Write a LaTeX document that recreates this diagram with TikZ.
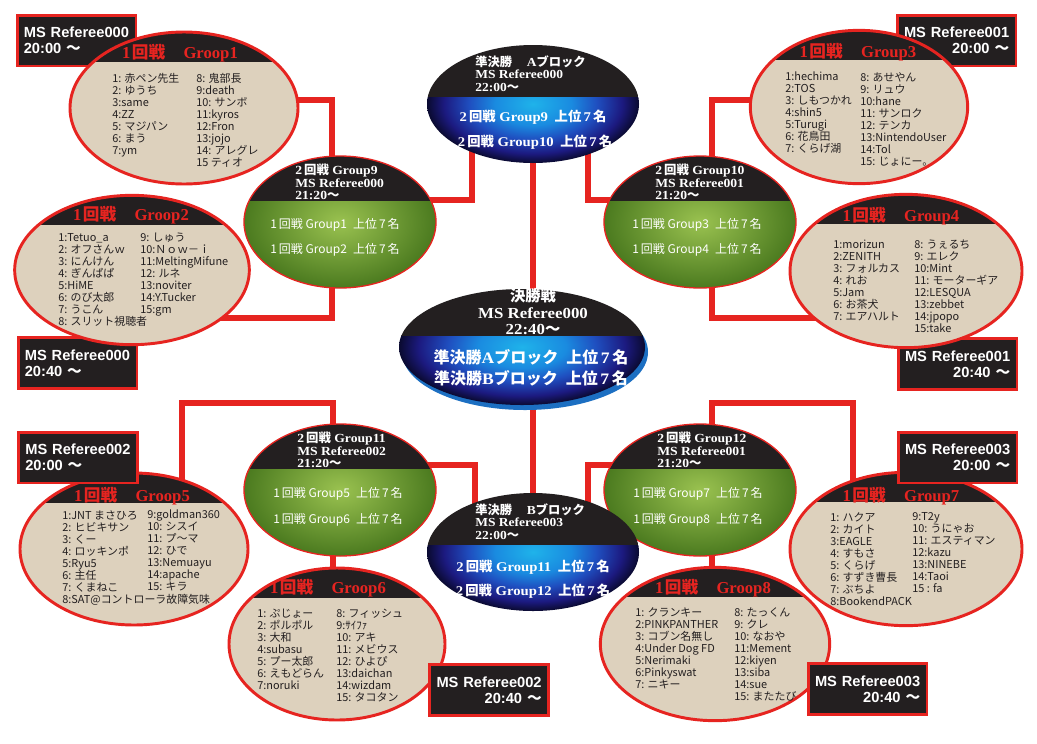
\documentclass[tikz,border=0pt]{standalone}
\usepackage{fontspec}
\setmainfont{Liberation Serif}
\newfontfamily\jp{Noto Sans CJK JP}
\newfontfamily\wser{Liberation Serif}[FakeStretch=1.1]
\newfontfamily\rsans{Liberation Sans}
\usetikzlibrary{shapes.geometric,backgrounds,calc}
\definecolor{mred}{HTML}{E62420}
\definecolor{hblack}{HTML}{231F20}
\definecolor{beige}{HTML}{DDD1BD}
\definecolor{gin}{HTML}{9AC250}
\definecolor{gout}{HTML}{4B7A1F}
\definecolor{bcyan}{HTML}{1FB3EA}
\definecolor{bmid}{HTML}{1A8BE0}
\definecolor{bblue}{HTML}{1F4FC0}
\definecolor{bnavy}{HTML}{1C1A80}
\definecolor{bdark}{HTML}{0A0A30}
\definecolor{brim}{HTML}{1C6FC2}
\pgfdeclareradialshading{greenglow}{\pgfpoint{0bp}{0bp}}{color(0bp)=(gin); color(25bp)=(gout); color(50bp)=(gout)}
\pgfdeclareradialshading{blueglow}{\pgfpoint{0bp}{0bp}}{color(0bp)=(bcyan); color(9bp)=(bmid); color(15bp)=(bblue); color(21bp)=(bnavy); color(25bp)=(bdark); color(50bp)=(black)}
\newcommand\kj[1]{{\jp\bfseries #1}}
\newcommand\ttl[1]{\bfseries 1\kern1pt\kj{回戦}\hspace{1.1em}#1}
\tikzset{
  link/.style={mred,line width=3.8pt},
  grp/.style={ellipse,draw=mred,line width=2.2pt,fill=beige,inner sep=0pt,
    path picture={\fill[hblack](path picture bounding box.north west)rectangle([yshift=-22.5pt]path picture bounding box.north east);}},
  rnd/.style={ellipse,draw=mred,line width=1pt,inner sep=0pt,minimum width=144pt,minimum height=99pt,
    path picture={\shade[shading=greenglow](path picture bounding box.south west)rectangle([yshift=-34pt]path picture bounding box.north east);
      \fill[hblack](path picture bounding box.north west)rectangle([yshift=-34pt]path picture bounding box.north east);}},
  semi/.style={ellipse,inner sep=0pt,
    path picture={\shade[shading=blueglow](path picture bounding box.south west)rectangle([yshift=-#1]path picture bounding box.north east);
      \fill[hblack](path picture bounding box.north west)rectangle([yshift=-#1]path picture bounding box.north east);}},
  ref/.style={rectangle,draw=mred,line width=2pt,fill=hblack,text=white,minimum width=89pt,minimum height=38pt,
    inner xsep=5pt,text width=79pt,align=#1,font=\rsans\bfseries\fontsize{11}{12}\selectfont},
  ttlsty/.style={text=mred,inner sep=0pt,font=\fontsize{12.5}{13}\selectfont},
  lst/.style={anchor=north west,inner sep=0pt,align=left,text=hblack,font=\jp\fontsize{8.2}{9}\selectfont},
  hd/.style={anchor=north west,inner sep=0pt,align=left,text=white,font=\wser\bfseries\fontsize{9.3}{9.1}\selectfont},
  bodyg/.style={text=white,inner sep=0pt,font=\jp\fontsize{9}{10}\selectfont},
  bodyb/.style={text=white,inner sep=0pt,font=\wser\bfseries\fontsize{10}{11}\selectfont}
}
\begin{document}
\begin{tikzpicture}[x=0.75pt,y=-0.75pt]
\useasboundingbox(0,0)rectangle(1037,743);
\node[ref=left](r1)at(76.5,40.5){MS Referee000\\20:00 \kj{～}};
\node[ref=left](r2)at(77.5,363){MS Referee000\\20:40 \kj{～}};
\node[ref=right](r3)at(956.5,40.5){MS Referee001\\20:00 \kj{～}};
\node[ref=right](r4)at(957.5,364){MS Referee001\\20:40 \kj{～}};

\node[grp,minimum width=171pt,minimum height=114pt](g1)at(184,108){};
\node[grp,minimum width=176pt,minimum height=112pt](g2)at(132,270){};
\node[grp,minimum width=163pt,minimum height=115pt](g3)at(859,107){};
\node[grp,minimum width=174pt,minimum height=115pt](g4)at(906,271){};
\node[grp,minimum width=171pt,minimum height=114pt](g5)at(134,549){};
\node[grp,minimum width=162pt,minimum height=114pt](g6)at(337,644){};
\node[grp,minimum width=174pt,minimum height=115pt](g7)at(906,549){};
\node[grp,minimum width=172pt,minimum height=115pt](g8)at(715,644){};

\node[ttlsty](t1)at(180,53){\ttl{Groop1}};
\node[ttlsty](t2)at(131,215){\ttl{Groop2}};
\node[ttlsty](t3)at(858,52){\ttl{Group3}};
\node[ttlsty](t4)at(901,216){\ttl{Group4}};
\node[ttlsty](t5)at(132,496){\ttl{Groop5}};
\node[ttlsty](t6)at(328,588){\ttl{Groop6}};
\node[ttlsty](t7)at(901,496){\ttl{Group7}};
\node[ttlsty](t8)at(713,588){\ttl{Groop8}};

\node[lst](g1a)at(112,73){1: 赤ペン先生\\2: ゆうち\\3:same\\4:ZZ\\5: マジパン\\6: まう\\7:ym};
\node[lst](g1b)at(196,73){8: 鬼部長\\9:death\\10: サンボ\\11:kyros\\12:Fron\\13:jojo\\14: アレグレ\\15 ティオ};
\node[lst](g2a)at(58,233){1:Tetuo\_a\\2: オフさんｗ\\3: にんけん\\4: ぎんぱぱ\\5:HiME\\6: のび太郎\\7: うこん\\8: スリット視聴者};
\node[lst](g2b)at(140,233){9: しゅう\\10:Ｎｏｗ－ｉ\\11:MeltingMifune\\12: ルネ\\13:noviter\\14:Y.Tucker\\15:gm};
\node[lst](g3a)at(785,72){1:hechima\\2:TOS\\3: しもつかれ\\4:shin5\\5:Turugi\\6: 花鳥田\\7: くらげ湖};
\node[lst](g3b)at(860,72){8: あせやん\\9: リュウ\\10:hane\\11: サンロク\\12: テンカ\\13:NintendoUser\\14:Tol\\15: じょにー。};
\node[lst](g4a)at(833,240){1:morizun\\2:ZENITH\\3: フォルカス\\4: れお\\5:Jam\\6: お茶犬\\7: エアハルト};
\node[lst](g4b)at(914,240){8: うぇるち\\9: エレク\\10:Mint\\11: モーターギア\\12:LESQUA\\13:zebbet\\14:jpopo\\15:take};
\node[lst](g5a)at(62,510){1:JNT まさひろ\\2: ヒビキサン\\3: くー\\4: ロッキンポ\\5:Ryu5\\6: 主任\\7: くまねこ\\8:SAT@コントローラ故障気味};
\node[lst](g5b)at(147,510){9:goldman360\\10: シスイ\\11: プ～マ\\12: ひで\\13:Nemuayu\\14:apache\\15: キラ};
\node[lst](g6a)at(257,609){1: ぷじょー\\2: ポルポル\\3: 大和\\4:subasu\\5: プー太郎\\6: えもどらん\\7:noruki};
\node[lst](g6b)at(336,609){8: フィッシュ\\9:ｻｲﾌｧ\\10: アキ\\11: メビウス\\12: ひよぴ\\13:daichan\\14:wizdam\\15: タコタン};
\node[lst](g7a)at(830,512){1: ハクア\\2: カイト\\3:EAGLE\\4: すもさ\\5: くらげ\\6: すずき曹長\\7: ぶちよ\\8:BookendPACK};
\node[lst](g7b)at(912,512){9:T2y\\10: うにゃお\\11: エスティマン\\12:kazu\\13:NINEBE\\14:Taoi\\15 : fa};
\node[lst](g8a)at(635,607){1: クランキー\\2:PINKPANTHER\\3: コブン名無し\\4:Under Dog FD\\5:Nerimaki\\6:Pinkyswat\\7: ニキー};
\node[lst](g8b)at(734,607){8: たっくん\\9: クレ\\10: なおや\\11:Mement\\12:kiyen\\13:siba\\14:sue\\15: またたび};

\node[rnd](g9)at(340,222){};
\node[rnd](g10)at(700,222){};
\node[rnd](g11)at(340,490){};
\node[rnd](g12)at(700,490){};
\node[hd](h9)at(295,164){2\,\kj{回戦} Group9\\MS Referee000\\21:20\kj{～}};
\node[hd](h10)at(655,164){2\,\kj{回戦} Group10\\MS Referee001\\21:20\kj{～}};
\node[hd](h11)at(297,432){2\,\kj{回戦} Group11\\MS Referee002\\21:20\kj{～}};
\node[hd](h12)at(657,432){2\,\kj{回戦} Group12\\MS Referee001\\21:20\kj{～}};
\node[bodyg](b9a)at(335,225){1\,回戦 Group1\enspace 上位\,7\,名};
\node[bodyg](b9b)at(335,250){1\,回戦 Group2\enspace 上位\,7\,名};
\node[bodyg](b10a)at(697,225){1\,回戦 Group3\enspace 上位\,7\,名};
\node[bodyg](b10b)at(697,250){1\,回戦 Group4\enspace 上位\,7\,名};
\node[bodyg](b11a)at(338,494){1\,回戦 Group5\enspace 上位\,7\,名};
\node[bodyg](b11b)at(338,520){1\,回戦 Group6\enspace 上位\,7\,名};
\node[bodyg](b12a)at(698,494){1\,回戦 Group7\enspace 上位\,7\,名};
\node[bodyg](b12b)at(698,520){1\,回戦 Group8\enspace 上位\,7\,名};

\node[semi=39pt,minimum width=159pt,minimum height=88.5pt](sa)at(533,104){};
\node[semi=39pt,minimum width=159pt,minimum height=88.5pt](sb)at(533,552){};
\node[ellipse,fill=brim,minimum width=184.5pt,minimum height=87pt](fsh)at(525,352){};
\node[semi=35pt,minimum width=184.5pt,minimum height=87pt](fin)at(522,347){};
\node[hd,font=\wser\bfseries\fontsize{9.2}{9.4}\selectfont](hsa)at(475,55){\kj{準決勝}\hspace{1.2em}A\kj{ブロック}\\MS Referee000\\22:00\kj{～}};
\node[hd,font=\wser\bfseries\fontsize{9.2}{9.4}\selectfont](hsb)at(475,503){\kj{準決勝}\hspace{1.2em}B\kj{ブロック}\\MS Referee003\\22:00\kj{～}};
\node[hd,anchor=center,align=center,font=\wser\bfseries\fontsize{11.5}{12.4}\selectfont](hfin)at(533,312){\kj{決勝戦}\\MS Referee000\\22:40\kj{～}};
\node[bodyb](bsa1)at(533,117){2\,\kj{回戦} Group9\enspace\kj{上位}\,7\,\kj{名}};
\node[bodyb](bsa2)at(535,142){2\,\kj{回戦} Group10\enspace\kj{上位}\,7\,\kj{名}};
\node[bodyb](bsb1)at(533,567){2\,\kj{回戦} Group11\enspace\kj{上位}\,7\,\kj{名}};
\node[bodyb](bsb2)at(533,591){2\,\kj{回戦} Group12\enspace\kj{上位}\,7\,\kj{名}};
\node[bodyb,font=\wser\bfseries\fontsize{12}{13}\selectfont](bf1)at(531,357){\kj{準決勝}A\kj{ブロック}\enspace\kj{上位}\,7\,\kj{名}};
\node[bodyb,font=\wser\bfseries\fontsize{12}{13}\selectfont](bf2)at(531,378){\kj{準決勝}B\kj{ブロック}\enspace\kj{上位}\,7\,\kj{名}};

\node[ref=left](r5)at(78,457.5){MS Referee002\\20:00 \kj{～}};
\node[ref=right](r6)at(489,690){MS Referee002\\20:40 \kj{～}};
\node[ref=right](r7)at(957.5,457.5){MS Referee003\\20:00 \kj{～}};
\node[ref=right](r8)at(867.5,689){MS Referee003\\20:40 \kj{～}};

\begin{scope}[on background layer]
\fill[white](0,0)rectangle(1037,743);
\draw[link]($(g1)+(0,-8)$)-|($(g9)+(-8,0)$);\draw[link]($(g2)+(0,48)$)-|($(g9)+(-8,0)$);
\draw[link]($(g3)+(0,-7)$)-|($(g10)+(12,0)$);\draw[link]($(g4)+(0,47)$)-|($(g10)+(12,0)$);
\draw[link]($(g9)+(0,-22)$)-|($(sa)+(-61,0)$);\draw[link]($(g10)+(0,-22)$)-|($(sa)+(55,0)$);
\draw[link]($(g11)+(0,-25)$)-|($(sb)+(-58,0)$);\draw[link]($(g12)+(0,-25)$)-|($(sb)+(55,0)$);
\draw[link](sa)--(sa|-fin);\draw[link](sb)--(sb|-fin);
\draw[link]($(g11)+(-7,0)$)--($(g11)+(-7,-87)$)-|($(g5)+(48,0)$);\draw[link]($(g11)+(-7,0)$)--($(g6)+(-4,0)$);
\draw[link]($(g12)+(12,0)$)--($(g12)+(12,-87)$)-|($(g7)+(-53,0)$);\draw[link]($(g12)+(12,0)$)--($(g8)+(-3,0)$);
\end{scope}
\end{tikzpicture}
\end{document}
